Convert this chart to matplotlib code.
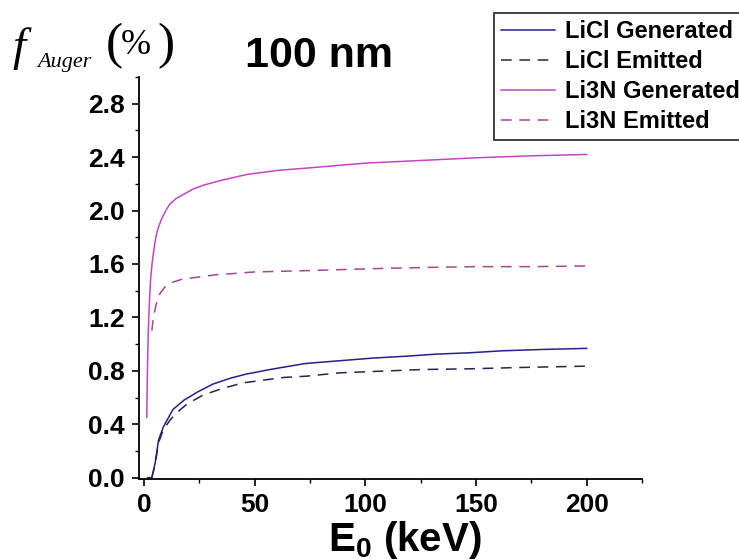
import matplotlib
matplotlib.use("Agg")
import matplotlib.pyplot as plt
from matplotlib.ticker import MultipleLocator

# ---- data ----
licl_gen_x = [1.5, 3.5, 5, 6.5, 8.7, 13, 18, 24, 31, 39, 46, 57, 64, 73, 88, 103, 119, 132, 147, 162, 180, 200]
licl_gen_y = [0, 0, 0.11, 0.28, 0.38, 0.51, 0.58, 0.64, 0.70, 0.745, 0.775, 0.81, 0.83, 0.855, 0.875,
              0.895, 0.91, 0.925, 0.935, 0.95, 0.96, 0.968]

licl_emi_x = [3.5, 5, 6.5, 8.7, 11.7, 15, 19.3, 26.8, 35.8, 44.8, 53.9, 62.9, 73.4, 88.5, 111, 126, 147, 170, 200]
licl_emi_y = [0, 0.1, 0.26, 0.36, 0.43, 0.49, 0.55, 0.62, 0.67, 0.71, 0.73, 0.75, 0.76, 0.785, 0.80,
              0.81, 0.815, 0.825, 0.835]

li3n_gen_x = [1.2, 1.5, 1.9, 2.5, 3, 3.6, 4.2, 5.0, 5.7, 6.8, 8, 9.8, 11.7, 14.5, 17.7, 22, 26.8, 35.8, 46.4,
              60, 75, 100, 125, 150, 175, 200]
li3n_gen_y = [0.45, 0.8, 1.1, 1.35, 1.5, 1.6, 1.68, 1.77, 1.83, 1.89, 1.94, 2.0, 2.05, 2.09, 2.12, 2.16,
              2.19, 2.23, 2.27, 2.30, 2.32, 2.355, 2.375, 2.395, 2.41, 2.42]

li3n_emi_x = [3.5, 4.2, 5.5, 7.2, 10, 13.2, 18, 23.8, 32.8, 41.8, 49.4, 73.4, 103.5, 130.6, 150, 175, 200]
li3n_emi_y = [1.1, 1.2, 1.3, 1.38, 1.44, 1.465, 1.49, 1.50, 1.52, 1.53, 1.54, 1.55, 1.565, 1.575, 1.58,
              1.58, 1.585]

labels = ["LiCl Generated", "LiCl Emitted", "Li3N Generated", "Li3N Emitted"]
x_ticks = [0, 50, 100, 150, 200]
y_ticks = [0.0, 0.4, 0.8, 1.2, 1.6, 2.0, 2.4, 2.8]

plt.rcParams['font.family'] = ['Liberation Sans', 'DejaVu Sans']
plt.rcParams['mathtext.fontset'] = 'custom'
plt.rcParams['mathtext.bf'] = 'Liberation Sans:bold'
plt.rcParams['mathtext.rm'] = 'Liberation Sans'

fig = plt.figure(figsize=(7.39, 5.60), dpi=100)
ax = fig.add_axes([139/739, 1 - 479/560, (642 - 139)/739, (479 - 77)/560])

dash = (0, (7, 5))
ax.plot(licl_gen_x, licl_gen_y, color='#22228a', lw=1.1, label=labels[0])
ax.plot(licl_emi_x, licl_emi_y, color='#252550', lw=1.1, ls=dash, label=labels[1])
ax.plot(li3n_gen_x, li3n_gen_y, color='#c444c4', lw=1.1, label=labels[2])
ax.plot(li3n_emi_x, li3n_emi_y, color='#a04898', lw=1.1, ls=dash, label=labels[3])

ax.set_xlim(-2.3, 225)
ax.set_ylim(-0.01, 3.0)
ax.set_xticks(x_ticks)
ax.set_yticks(y_ticks)
ax.set_xticklabels([str(v) for v in x_ticks])
ax.set_yticklabels([f"{v:.1f}" for v in y_ticks])
ax.xaxis.set_minor_locator(MultipleLocator(25))
ax.yaxis.set_minor_locator(MultipleLocator(0.2))
for s in ['top', 'right']:
    ax.spines[s].set_visible(False)
for s in ['left', 'bottom']:
    ax.spines[s].set_linewidth(1.3)
ax.tick_params(which='major', direction='out', length=5, width=1.2, labelsize=19, pad=5)
ax.tick_params(which='minor', direction='out', length=3, width=1.0)
ax.tick_params(axis='x', which='major', pad=5)
for lab in ax.get_xticklabels() + ax.get_yticklabels():
    lab.set_fontweight('bold')

# y label (top-left)
fig.text(12/739, 1 - 60/560, 'f', fontsize=34, family='Liberation Serif', style='italic', va='baseline')
fig.text(37/739, 1 - 67/560, 'Auger', fontsize=16, family='Liberation Serif', style='italic', va='baseline')
fig.text(106/739, 1 - 46/560, '(', fontsize=37, family='Liberation Serif', va='center')
fig.text(121/739, 1 - 45/560, '%', fontsize=26, family='Liberation Serif', va='center')
fig.text(157/739, 1 - 46/560, ')', fontsize=37, family='Liberation Serif', va='center')

# title
fig.text(245/739, 1 - 67/560, '100 nm', fontsize=31, fontweight='bold', va='baseline')

# x label
fig.text(405/739, 1 - 551/560, r'$\mathbf{E_0}$ (keV)', fontsize=29, fontweight='bold',
         ha='center', va='baseline')

leg = fig.legend(loc='upper left', bbox_to_anchor=(494/739, 1 - 13/560),
                 prop={'weight': 'bold', 'size': 17}, frameon=True, fancybox=False,
                 borderpad=0.3, borderaxespad=0, handlelength=2.3, handletextpad=0.4,
                 labelspacing=0.3)
leg.get_frame().set_edgecolor('black')
leg.get_frame().set_linewidth(1.3)

fig.savefig('out.png', dpi=100)
